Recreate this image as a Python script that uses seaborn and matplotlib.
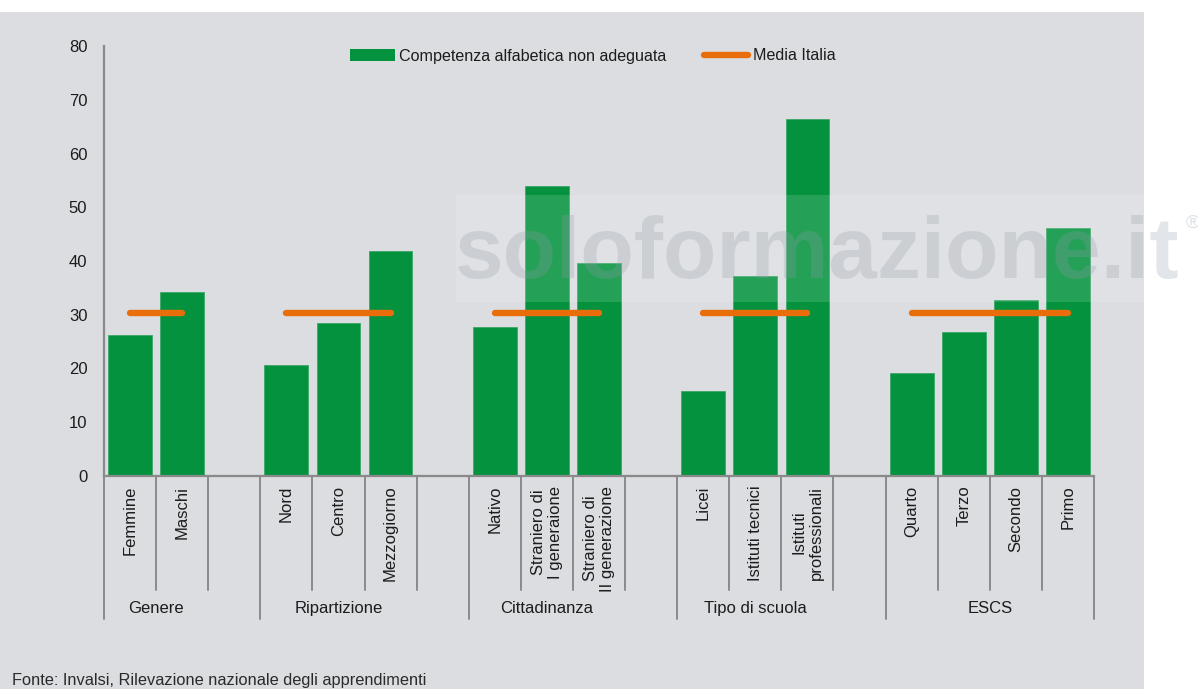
import matplotlib
matplotlib.use("Agg")
import matplotlib.pyplot as plt
import seaborn as sns
import pandas as pd
from matplotlib.patches import Rectangle, Patch
from matplotlib.lines import Line2D
from matplotlib.transforms import blended_transform_factory

# --- Dati ---
gruppi = ["Genere", "Ripartizione", "Cittadinanza", "Tipo di scuola", "ESCS"]
voci = [
    ["Femmine", "Maschi"],
    ["Nord", "Centro", "Mezzogiorno"],
    ["Nativo", "Straniero di\nI generaione", "Straniero di\nII generazione"],
    ["Licei", "Istituti tecnici", "Istituti\nprofessionali"],
    ["Quarto", "Terzo", "Secondo", "Primo"],
]
valori = [
    [26.2, 34.3],
    [20.6, 28.4, 41.8],
    [27.8, 54.0, 39.6],
    [15.8, 37.3, 66.5],
    [19.2, 26.8, 32.8, 46.2],
]
media_italia = 30.3
yticks = [0, 10, 20, 30, 40, 50, 60, 70, 80]

VERDE = "#05923f"
ARANCIO = "#e96d0a"
GRIGIO_SFONDO = "#dcdde0"
GRIGIO_ASSE = "#8a8a8a"
TESTO = "#1c1c1c"

# --- Costruzione slot (con spazio vuoto tra i gruppi) ---
slots, righe, media_righe, gap_slots = [], [], [], []
group_bounds = []
for gi, (g, items, vals) in enumerate(zip(gruppi, voci, valori)):
    start = len(slots)
    for it, v in zip(items, vals):
        righe.append({"slot": it, "valore": v, "gruppo": g})
        media_righe.append({"pos": len(slots), "media": media_italia, "gruppo": g})
        slots.append(it)
    n_items = len(slots) - start
    if gi < len(gruppi) - 1:
        gap = f"_gap{gi}"
        gap_slots.append(gap)
        slots.append(gap)
    group_bounds.append((start, len(slots), start + (n_items - 1) / 2))

df = pd.DataFrame(righe)
df_media = pd.DataFrame(media_righe)

sns.set_style("white")
plt.rcParams["font.family"] = ["Liberation Sans", "DejaVu Sans"]

fig = plt.figure(figsize=(11.98, 6.89), dpi=100)
fig.patch.set_facecolor("white")
fig.patches.append(Rectangle((0, 0), 1144 / 1198, 1 - 12 / 689, transform=fig.transFigure,
                             facecolor=GRIGIO_SFONDO, edgecolor="none", zorder=-10))

ax = fig.add_axes([104 / 1198, 1 - 476 / 689, 990 / 1198, 430 / 689])
ax.set_facecolor("none")

sns.barplot(data=df, x="slot", y="valore", order=slots, color=VERDE, width=0.84,
            saturation=1, edgecolor="#3aa866", linewidth=0.6, ax=ax)
sns.lineplot(data=df_media, x="pos", y="media", units="gruppo", estimator=None,
             color=ARANCIO, lw=4.6, solid_capstyle="round", ax=ax, legend=False)

ax.set_xlim(-0.5, len(slots) - 0.5)
ax.set_ylim(0, 80)
ax.set_yticks(yticks)
ax.set_xlabel("")
ax.set_ylabel("")
ax.set_xticks(range(len(slots)))
ax.set_xticklabels(["" if s in gap_slots else s for s in slots], rotation=90,
                   fontsize=12, color=TESTO, multialignment="center")
ax.tick_params(axis="x", length=0, pad=7)
ax.tick_params(axis="y", length=4, width=1.2, color=GRIGIO_ASSE, pad=8,
               labelsize=12, labelcolor=TESTO)
for s in ["top", "right"]:
    ax.spines[s].set_visible(False)
for s in ["left", "bottom"]:
    ax.spines[s].set_color(GRIGIO_ASSE)
    ax.spines[s].set_linewidth(1.6)

# separatori a due livelli sotto l'asse x
tr = blended_transform_factory(ax.transData, ax.transAxes)
starts = {b[0] for b in group_bounds} | {len(slots)}
for k in range(len(slots) + 1):
    depth = -0.333 if k in starts else -0.265
    ax.add_line(Line2D([k - 0.5, k - 0.5], [0, depth], transform=tr, color=GRIGIO_ASSE,
                       lw=1.4, clip_on=False))
for g, (a, b, c) in zip(gruppi, group_bounds):
    ax.text(c, -0.307, g, transform=tr, ha="center", va="center", fontsize=12, color=TESTO)

# legenda
handles = [Patch(facecolor=VERDE, edgecolor="none"),
           Line2D([], [], color=ARANCIO, lw=4.6, solid_capstyle="round")]
fig.legend(handles, ["Competenza alfabetica non adeguata", "Media Italia"],
           loc="center", bbox_to_anchor=(593 / 1198, 1 - 56 / 689), ncol=2, frameon=False,
           fontsize=11.65, handlelength=2.75, handletextpad=0.3, columnspacing=2.3,
           labelcolor=TESTO)

# fonte
fig.text(12 / 1198, 4 / 689, "Fonte: Invalsi, Rilevazione nazionale degli apprendimenti",
         fontsize=11.8, color="#2a2a2a", ha="left", va="baseline")

# filigrana
fig.patches.append(Rectangle((456 / 1198, 1 - 302 / 689), 1 - 456 / 1198, 107 / 689,
                             transform=fig.transFigure, facecolor="white", alpha=0.13,
                             edgecolor="none", zorder=5))
fig.text(455 / 1198, 1 - 278 / 689, "soloformazione.it", fontsize=63, fontweight="bold",
         color="#8f9aa8", alpha=0.25, ha="left", va="baseline", zorder=6)
fig.text(1186 / 1198, 1 - 228 / 689, "®", fontsize=14, color="#8f9aa8", alpha=0.3,
         ha="left", va="baseline", zorder=6)

fig.savefig("out.png", dpi=100)
